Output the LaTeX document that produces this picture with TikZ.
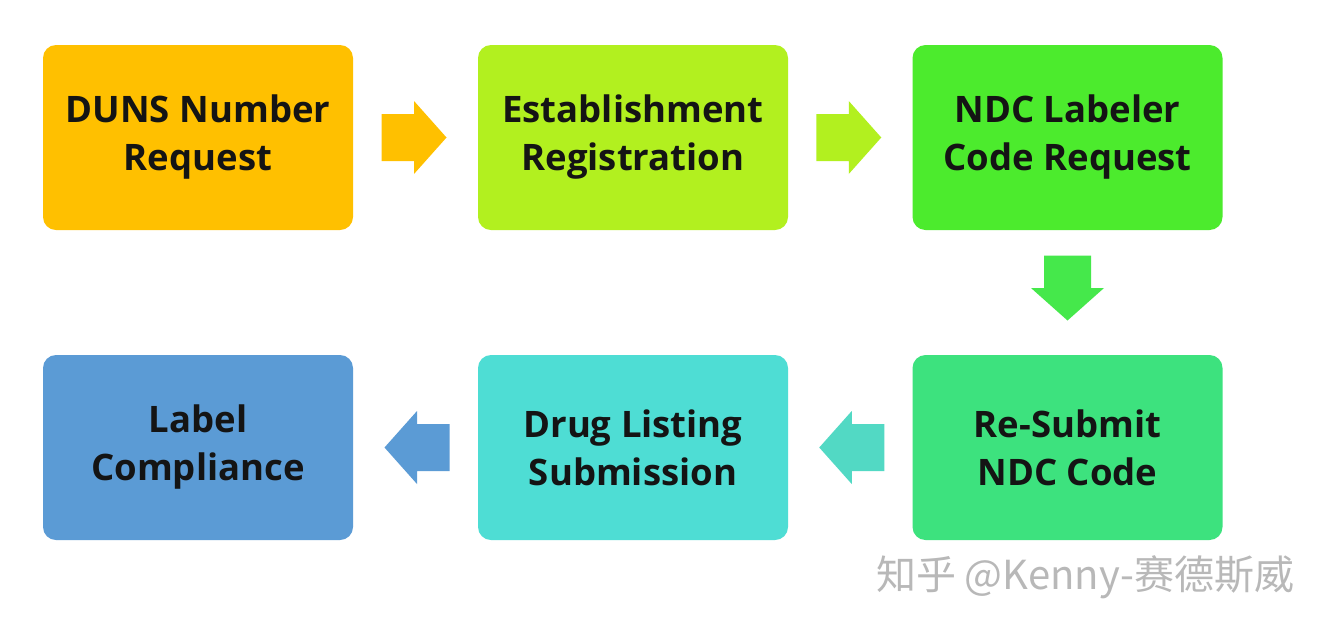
\documentclass[tikz,border=0pt]{standalone}
\usepackage{fontspec}
\setmainfont{Open Sans}
\newfontfamily\cjk{Noto Sans CJK SC}
\usetikzlibrary{calc}
\definecolor{cOrange}{HTML}{FFC000}
\definecolor{cLime}{HTML}{B2F01F}
\definecolor{cGreen}{HTML}{4CEB2D}
\definecolor{cDown}{HTML}{45E84B}
\definecolor{cMint}{HTML}{3DE27E}
\definecolor{cCyan}{HTML}{4EDDD4}
\definecolor{cCyanArr}{HTML}{52D9C4}
\definecolor{cBlue}{HTML}{5B9BD5}
\definecolor{cText}{HTML}{141414}
\tikzset{
  stepbox/.style={rectangle, rounded corners=13pt, minimum width=310pt, minimum height=185pt,
    inner sep=0pt, align=center, text=cText,
    font=\fontsize{36.5}{48}\selectfont\bfseries},
  blockarrow/.pic={\fill (-34,-23.5) -- (-1.5,-23.5) -- (-1.5,-36.5) -- (31,0) -- (-1.5,36.5) -- (-1.5,23.5) -- (-34,23.5) -- cycle;}
}
\begin{document}
\begin{tikzpicture}[x=1pt,y=-1pt]
\useasboundingbox[fill=white] (0,0) rectangle (1329,641);
\node[stepbox, fill=cOrange] (n1) at (198,137.5) {DUNS Number\\Request};
\node[stepbox, fill=cLime] (n2) at (633,137.5) {Establishment\\Registration};
\node[stepbox, fill=cGreen] (n3) at (1067.5,137.5) {NDC Labeler\\Code Request};
\node[stepbox, fill=cMint] (n6) at (1067.5,447.5) {Re-Submit\\NDC Code};
\node[stepbox, fill=cCyan] (n5) at (633,447.5) {Drug Listing\\Submission};
\node[stepbox, fill=cBlue] (n4) at (198,447.5) {Label\\Compliance};
\coordinate (m12) at ($(n1.east)!0.5!(n2.west)$);
\coordinate (m23) at ($(n2.east)!0.5!(n3.west)$);
\coordinate (m36) at ($(n3.south)!0.5!(n6.north)+(0,-3)$);
\coordinate (m65) at ($(n6.west)!0.5!(n5.east)$);
\coordinate (m54) at ($(n5.west)!0.5!(n4.east)$);
\pic[fill=cOrange] at (m12) {blockarrow};
\pic[fill=cLime] at (m23) {blockarrow};
\pic[fill=cDown, rotate=-90] at (m36) {blockarrow};
\pic[fill=cCyanArr, rotate=180] at (m65) {blockarrow};
\pic[fill=cBlue, rotate=180] at (m54) {blockarrow};
\node[font=\cjk\fontsize{40}{44}\selectfont, text=black!28, inner sep=0pt] (wm) at (1085,577) {知乎 @Kenny-赛德斯威};
\end{tikzpicture}
\end{document}
